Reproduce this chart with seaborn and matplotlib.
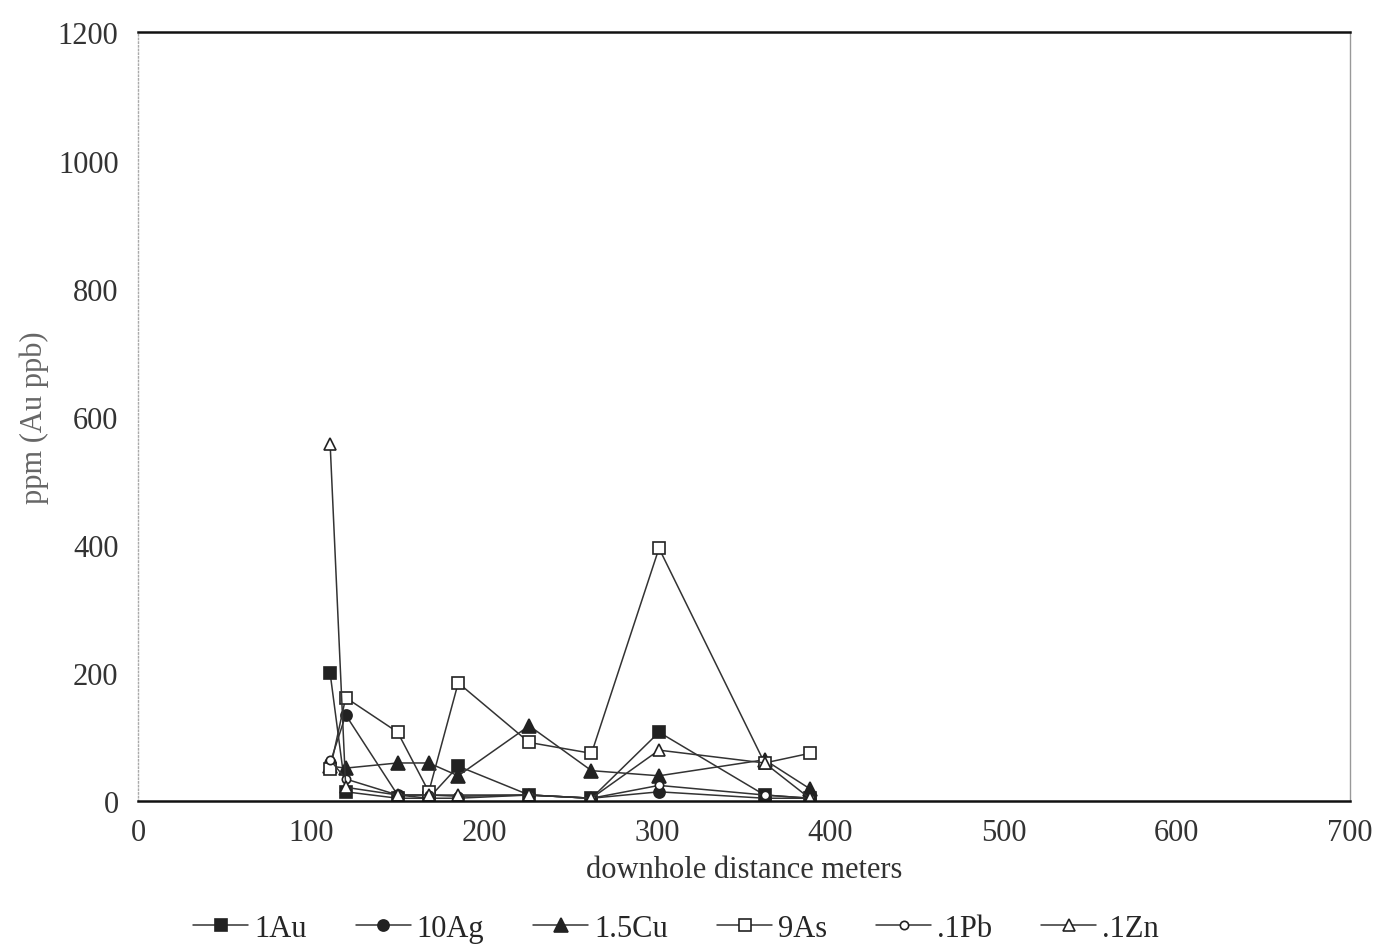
import numpy as np
import pandas as pd
import matplotlib
matplotlib.use("Agg")
import matplotlib.pyplot as plt
import seaborn as sns

distance = [111, 120, 150, 168, 185, 226, 262, 301, 362, 388]
au = [200, 15, 5, 5, 55, 10, 5, 108, 10, 5]
ag = [60, 135, 10, 5, 5, 10, 5, 15, 5, 5]
cu = [55, 52, 60, 60, 40, 118, 48, 40, 65, 20]
as_ = [50, 162, 108, 15, 185, 92, 75, 395, 60, 75]
pb = [65, 35, 10, 10, 8, 10, 5, 25, 10, 5]
zn = [558, 22, 10, 10, 10, 10, 5, 80, 60, 5]

labels = ["1Au", "10Ag", "1.5Cu", "9As", ".1Pb", ".1Zn"]
series = [au, ag, cu, as_, pb, zn]
markers = ["s", "o", "^", "s", "o", "^"]
filled = [True, True, True, False, False, False]
sizes = [9, 8, 10, 9, 6, 9]

sns.set_style("white")
plt.rcParams['font.family'] = ['Liberation Serif', 'DejaVu Serif']

fig = plt.figure(figsize=(13.8, 9.53), dpi=100)
ax = fig.add_axes([0.1, 0.158, 0.878, 0.807])

for lab, vals, m, f, s in zip(labels, series, markers, filled, sizes):
    df = pd.DataFrame({"x": distance, "y": vals})
    sns.lineplot(data=df, x="x", y="y", ax=ax, color="#333333", linewidth=1.1,
                 marker=m, markersize=s, markeredgecolor="#222222",
                 markerfacecolor="#222222" if f else "white",
                 markeredgewidth=1.2, label=lab)

ax.set_xlim(0, 700)
ax.set_ylim(0, 1200)
ax.set_xticks(range(0, 701, 100))
ax.set_yticks(range(0, 1201, 200))
ax.tick_params(axis="both", labelsize=22, colors="#333333", direction="in", length=14, width=1.2)
ax.tick_params(axis="y", pad=14)
ax.tick_params(axis="x", length=6, pad=12)
ax.set_xlabel("downhole distance meters", fontsize=22, color="#333333", labelpad=6)
ax.set_ylabel("ppm (Au ppb)", fontsize=22, color="#666666", labelpad=6)

for side in ["top", "bottom"]:
    ax.spines[side].set_color("#111111")
    ax.spines[side].set_linewidth(1.8)
ax.spines["left"].set_color("#aaaaaa")
ax.spines["left"].set_linewidth(1.0)
ax.spines["left"].set_linestyle(":")
ax.spines["right"].set_color("#999999")
ax.spines["right"].set_linewidth(1.0)

handles, labs = ax.get_legend_handles_labels()
ax.get_legend().remove()
fig.legend(handles, labs, loc="center", bbox_to_anchor=(0.49, 0.025), ncol=6, frameon=False,
           fontsize=22, handlelength=1.8, columnspacing=1.6, handletextpad=0.2)

fig.savefig("out.png", dpi=100)
